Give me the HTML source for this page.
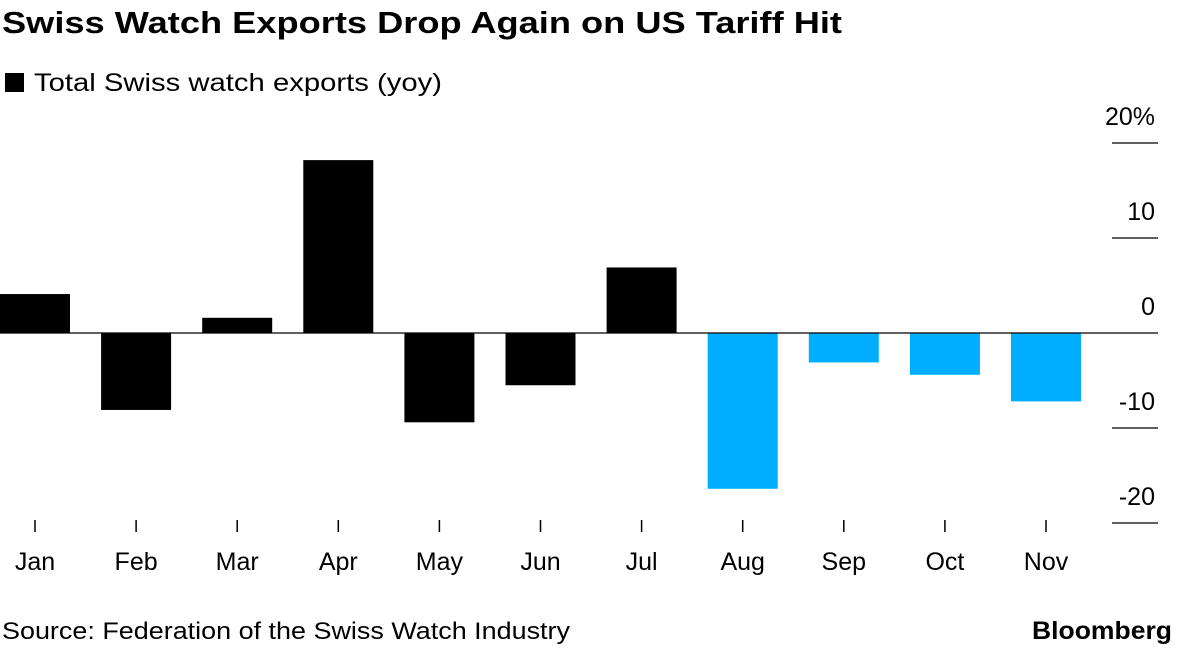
<!DOCTYPE html>
<html><head><meta charset="utf-8"><style>
body{margin:0;background:#fff;width:1184px;height:648px;overflow:hidden;font-family:"Liberation Sans",sans-serif}
</style></head><body>
<svg width="1184" height="648" xmlns="http://www.w3.org/2000/svg" font-family="Liberation Sans, sans-serif">
<text x="2" y="33" font-size="31" font-weight="bold" fill="#000" textLength="840" lengthAdjust="spacingAndGlyphs">Swiss Watch Exports Drop Again on US Tariff Hit</text>
<rect x="5" y="73" width="19" height="19" fill="#000"/>
<text x="34" y="91" font-size="25" fill="#000" textLength="408" lengthAdjust="spacingAndGlyphs">Total Swiss watch exports (yoy)</text>
<g id="chart"></g>
<text x="2" y="639" font-size="24" fill="#000" textLength="568" lengthAdjust="spacingAndGlyphs">Source: Federation of the Swiss Watch Industry</text>
<text x="1032" y="639" font-size="25" font-weight="bold" fill="#000" textLength="140" lengthAdjust="spacingAndGlyphs">Bloomberg</text>
</svg>
<script>
const categories=["Jan","Feb","Mar","Apr","May","Jun","Jul","Aug","Sep","Oct","Nov"];
const values=[4.1,-8.1,1.6,18.2,-9.4,-5.5,6.9,-16.4,-3.1,-4.4,-7.2];
const highlight=[false,false,false,false,false,false,false,true,true,true,true];
const ticks=[20,10,0,-10,-20];
const tickLabels=["20%","10","0","-10","-20"];
const NS="http://www.w3.org/2000/svg";
const g=document.getElementById("chart");
const y=v=>333-v*9.5;
const xc=i=>35+i*101.1;
function el(t,a){const e=document.createElementNS(NS,t);for(const k in a)e.setAttribute(k,a[k]);g.appendChild(e);return e;}
ticks.forEach((t,i)=>{
  if(t!==0){const l=el("line",{x1:1112,x2:1158,y1:y(t),y2:y(t),stroke:"#000","stroke-width":1.2});
  
  }
  const tx=el("text",{x:1155,y:y(t)-18,"font-size":25,"text-anchor":"end",fill:"#000"});
  tx.textContent=tickLabels[i];
  
  
});
values.forEach((v,i)=>{
  const r=el("rect",{x:xc(i)-35,width:70,y:Math.min(y(v),y(0)),height:Math.abs(y(v)-y(0)),fill:highlight[i]?"#00aeff":"#000"});
  
  
  const tk=el("line",{x1:xc(i),x2:xc(i),y1:520,y2:532,stroke:"#000","stroke-width":1.5});
  
  
  const lb=el("text",{x:xc(i),y:570,"font-size":25,"text-anchor":"middle",fill:"#000"});
  lb.textContent=categories[i];
  
  
});
const z=el("line",{x1:0,x2:1158,y1:y(0),y2:y(0),stroke:"#000","stroke-width":1.2});


</script>
</body></html>
